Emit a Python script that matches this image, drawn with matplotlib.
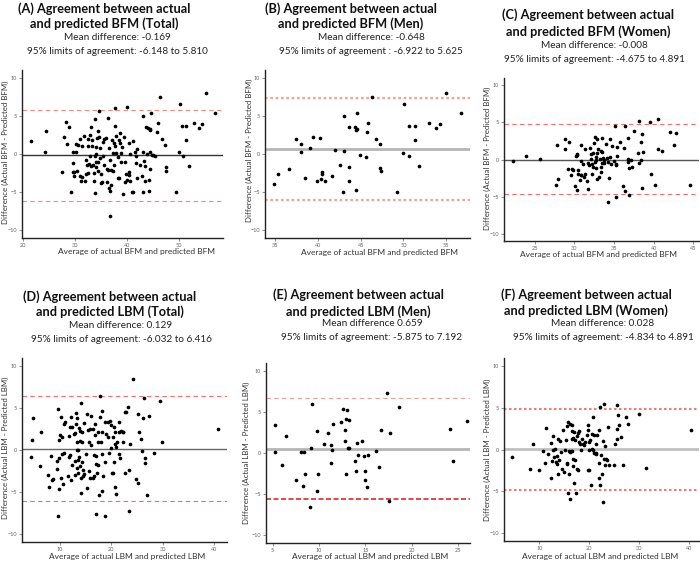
import matplotlib
matplotlib.use("Agg")
import matplotlib.pyplot as plt

plt.rcParams['font.family'] = ['Lato', 'DejaVu Sans']

W, H = 700, 563

# ---------------- data ----------------
a_x = [21.7,24.3,24.5,27.5,28.0,28.3,28.5,28.9,29.3,29.6,29.6,29.7,29.9,29.9,30.2,30.3,30.4,30.7,31.0,31.1,
       31.2,31.4,31.3,31.8,32.0,32.2,32.2,32.5,32.5,32.6,32.4,32.7,32.9,33.0,33.1,33.2,33.3,33.4,33.5,33.6,
       33.6,33.8,33.8,33.9,34.0,34.0,34.1,34.1,34.2,34.4,34.5,34.5,34.6,34.7,34.8,34.9,35.1,35.0,35.3,35.4,
       35.5,35.7,35.7,36.0,36.1,36.1,36.3,36.4,36.6,36.6,36.7,36.8,36.8,36.9,37.0,37.2,37.3,37.4,37.6,37.6,
       37.8,37.8,37.8,37.9,38.0,38.2,38.3,38.5,38.5,38.6,38.7,38.9,38.9,39.0,39.2,39.4,39.6,39.7,39.8,40.1,
       40.1,40.3,40.4,40.4,40.5,40.6,41.0,41.1,41.2,41.5,41.7,41.8,41.9,42.0,42.5,42.8,43.0,43.1,43.1,43.2,
       43.4,43.5,43.6,43.8,44.0,44.2,44.3,44.4,44.5,44.5,44.5,44.7,44.8,45.0,45.4,45.8,45.9,46.4,46.8,47.3,
       47.4,47.5,49.4,50.0,50.2,50.6,50.8,51.3,51.4,51.8,52.9,53.8,54.4,55.2,56.8]
a_y = [1.7,0.3,3.0,-2.4,2.2,4.2,1.3,3.5,-5.0,0.2,-1.2,-2.3,-2.9,-2.4,1.3,0.2,-2.2,1.2,1.9,-2.9,
       -3.5,-3.0,1.1,2.4,-3.6,-2.6,-0.8,1.9,-2.5,1.0,-1.4,-1.3,2.5,-0.2,-1.6,3.6,1.1,1.8,-1.5,-2.5,
       -3.6,-0.2,4.6,-5.1,-0.05,-1.65,-1.1,0.9,2.1,3.0,-1.0,-2.2,2.2,5.65,0.74,-0.56,-2.6,-3.8,-3.7,-0.3,
       1.6,-1.4,2.0,2.1,-1.9,-3.65,4.7,-2.1,0.8,-4.5,-4.8,-0.8,-8.1,-4.0,-2.1,1.8,0.1,-2.2,-1.5,1.4,
       6.0,3.7,1.1,2.4,0.1,-0.4,-3.1,-3.2,1.8,2.7,1.4,0.1,-1.0,0.9,-5.3,2.2,-1.1,-3.7,-2.6,6.2,
       -3.4,1.4,-2.4,-2.8,0.0,-3.6,-5.0,-5.0,1.65,0.2,-0.3,-1.2,-3.2,0.6,-1.4,-2.9,-5.0,5.0,0.3,-0.9,
       -1.6,-3.6,3.5,0.0,3.4,-3.4,-4.8,0.3,3.3,3.1,-1.9,5.4,-0.1,-0.1,-0.3,2.9,4.1,7.4,2.0,1.2,
       -1.7,-2.2,-5.0,0.2,6.6,3.7,-0.2,3.7,1.8,-1.6,4.1,3.4,3.9,8.0,5.4]

b_x = [34.9,35.3,36.6,37.4,38.0,38.0,38.5,39.1,39.4,39.9,40.2,40.3,40.5,40.5,40.8,41.7,42.0,42.6,42.9,43.1,
       43.1,43.6,43.6,43.6,44.3,44.5,44.5,44.6,44.6,44.9,45.6,45.7,45.8,46.3,46.8,47.3,47.3,47.4,49.3,49.9,
       50.1,50.6,50.7,51.4,51.4,51.8,53.0,53.8,54.3,55.0,56.7]
b_y = [-3.9,-2.6,-2.0,1.9,1.3,0.2,-3.2,0.8,2.2,-3.6,2.1,-3.3,-2.4,-2.65,-3.5,-2.9,0.57,-1.4,-5.0,4.96,
       0.4,-1.65,-3.5,3.5,3.6,-4.7,3.2,5.4,3.3,-0.1,-0.35,2.9,4.0,7.5,2.0,1.3,-1.8,-2.2,-5.0,0.13,
       6.6,3.65,-0.2,3.7,1.8,-1.6,4.0,3.35,3.9,8.0,5.4]

c_x = [22.3,23.9,25.7,27.7,27.9,27.8,28.8,28.8,29.3,29.2,29.6,29.7,29.8,30.1,30.2,30.4,30.4,30.4,30.5,30.5,
       30.7,30.8,30.8,30.8,30.9,31.1,31.2,31.3,31.4,31.6,31.7,31.7,31.9,32.0,32.1,32.1,32.2,32.2,32.3,32.4,
       32.5,32.6,32.6,32.7,32.7,32.7,32.8,32.8,32.9,33.0,33.1,33.2,33.3,33.4,33.4,33.5,33.5,33.5,33.6,33.7,
       33.8,34.0,34.1,34.2,34.3,34.4,34.5,34.5,34.6,34.8,35.0,35.1,35.2,35.3,35.3,35.4,35.4,35.7,36.1,36.3,
       36.4,36.4,36.7,36.8,36.8,36.9,36.9,37.1,37.3,37.5,38.0,38.1,38.2,38.4,38.4,38.5,38.5,38.6,39.5,39.6,
       40.1,40.5,40.6,41.0,42.0,42.6,42.8,44.6]
c_y = [-0.2,0.5,0.1,-3.4,-2.65,1.9,2.8,1.4,2.3,-1.3,-2.1,-1.3,-1.35,-3.6,0.45,0.6,0.8,-4.05,-2.0,-1.4,
       -2.8,-2.1,2.0,-2.1,-0.2,-0.6,-2.4,1.4,-1.9,-2.9,-4.0,-0.5,-0.7,1.6,0.7,0.1,-1.9,-0.6,-1.0,0.9,
       2.2,3.0,-0.3,0.4,-1.2,-0.1,2.8,0.9,-2.6,1.35,-2.4,0.1,-1.0,1.2,-1.75,1.0,-0.45,2.9,0.2,-0.1,
       -0.5,2.1,0.2,-5.8,-0.3,-2.5,0.3,2.8,-0.6,1.8,-0.2,4.5,-0.6,-5.0,-0.8,1.7,0.5,2.3,-3.6,1.5,
       -4.3,4.5,0.1,2.9,-0.4,-4.8,-1.1,-0.1,-1.0,3.9,0.9,-0.45,5.2,2.3,-0.1,-3.9,3.4,1.0,5.0,-2.0,
       -3.5,1.4,5.4,1.2,3.7,2.0,3.6,-3.5]

d_x = [4.4,4.7,4.8,6.2,6.3,7.7,8.0,8.3,8.5,8.7,9.4,9.5,9.7,9.7,9.9,9.9,9.9,10.1,10.3,10.3,
       10.5,10.5,10.6,10.8,10.9,11.1,11.7,11.8,11.9,12.0,12.1,12.2,12.3,12.4,12.5,12.7,12.9,12.9,13.0,13.1,
       13.2,13.3,13.4,13.4,13.4,13.6,13.6,13.6,13.7,13.8,13.9,13.9,14.0,14.1,14.1,14.2,14.3,14.4,14.4,14.5,
       14.6,14.7,14.8,15.1,15.3,15.4,15.6,15.8,15.8,15.9,15.9,16.1,16.1,16.4,16.5,16.6,16.7,16.8,16.9,17.0,
       17.1,17.1,17.3,17.4,17.5,17.5,17.6,17.8,17.9,18.0,18.2,18.2,18.2,18.3,18.4,18.8,18.9,18.9,19.1,19.3,
       19.3,19.5,19.7,19.9,20.0,20.2,20.3,20.4,20.5,20.6,20.7,20.7,20.8,20.9,20.9,21.1,21.5,21.5,21.6,21.8,
       22.0,22.3,22.4,22.4,22.6,22.6,22.9,23.2,23.4,23.4,23.7,24.2,24.8,25.2,25.3,25.4,25.9,26.0,26.2,26.4,
       26.5,26.6,26.9,27.4,28.3,29.5,29.8,40.8]
d_y = [-0.8,1.2,3.8,-1.9,2.1,-3.0,-4.4,-0.7,-3.6,-3.5,-2.3,-1.35,4.9,-7.9,-4.7,1.2,-1.0,1.8,3.9,-3.3,
       -0.5,1.55,-4.1,-0.35,3.1,3.3,-3.1,1.7,-0.8,-0.6,2.8,3.9,-3.6,2.7,-1.75,1.9,-1.3,-3.0,2.0,3.1,
       4.4,3.8,-2.1,0.0,1.0,0.05,-2.7,-1.15,-0.8,2.6,-1.9,2.3,1.1,5.6,-3.3,-5.2,2.2,-1.4,0.95,-3.1,
       -2.4,3.2,-2.9,-0.5,4.3,-4.5,2.4,1.0,-2.5,-3.4,2.5,0.6,4.1,-3.4,2.55,-3.1,-0.55,3.1,1.8,-0.7,
       -7.65,-1.7,-2.8,-1.75,0.9,2.1,-5.4,6.45,3.9,1.0,4.7,-4.9,2.1,-0.5,-3.1,3.4,-7.9,-1.4,1.9,3.4,
       1.5,-0.3,3.5,3.0,0.2,-2.7,-2.8,1.6,2.7,-1.4,0.7,-4.4,2.1,-5.3,0.4,1.0,3.3,-0.5,2.2,-0.9,
       2.3,2.2,2.1,1.0,-2.7,4.5,4.6,5.1,-2.4,-7.25,0.7,8.45,-3.5,-3.9,4.3,2.2,1.35,-0.15,3.8,6.2,
       -0.9,-1.6,-5.4,4.1,-0.3,5.8,0.95,2.5]

e_x = [5.2,5.25,6.05,6.4,7.5,8.0,8.3,8.4,8.5,9.0,9.1,9.25,9.76,9.76,9.84,10.56,10.93,11.3,11.3,11.5,
       11.4,12.4,12.6,12.75,12.85,12.9,12.9,13.0,13.1,13.2,13.2,13.9,14.0,14.1,14.2,14.6,14.8,14.95,15.0,15.2,
       15.3,16.2,16.5,16.7,17.3,17.6,17.7,18.6,24.1,24.45,25.95]
e_y = [3.4,0.1,-1.45,2.1,-3.3,0.1,-4.05,0.1,-2.6,-6.6,0.6,6.0,2.7,-4.6,-2.55,1.1,2.45,-1.2,1.0,3.6,
       0.37,3.8,5.4,2.8,1.45,-2.55,4.2,5.25,0.6,4.05,0.6,-1.0,-2.2,1.2,-0.25,1.5,-0.4,-3.3,-2.2,-4.1,
       -0.3,0.25,-1.7,2.8,7.3,-5.9,2.5,5.6,2.9,-1.0,3.9]

f_x = [4.6,8.1,8.7,9.9,10.8,11.1,11.3,11.7,12.3,12.4,12.5,12.7,12.8,13.0,13.1,13.3,13.5,13.6,13.75,13.8,
       13.9,14.1,14.35,14.55,14.8,15.0,15.2,15.3,15.5,15.6,15.6,15.8,15.8,15.9,15.96,16.1,16.2,16.2,16.4,16.5,
       16.6,16.6,16.6,16.7,16.8,16.8,16.9,17.0,17.2,17.2,17.4,17.5,17.6,17.7,17.8,17.9,18.0,18.2,18.4,18.6,
       18.7,18.97,19.2,19.5,19.7,19.8,19.8,19.9,20.0,20.0,20.2,20.3,20.5,20.5,20.7,20.7,20.9,21.0,21.25,21.3,
       21.4,21.5,21.9,21.9,22.0,22.1,22.2,22.4,22.5,22.7,22.8,22.9,22.9,23.1,23.1,23.3,23.5,23.7,23.9,24.9,
       25.1,25.5,25.6,25.6,25.8,25.9,26.3,26.7,27.3,27.75,29.9,31.3,40.3]
f_y = [-0.85,-2.3,0.7,-2.5,-0.2,-1.6,2.6,-0.5,-3.4,0.75,-1.4,-0.1,1.6,-0.85,0.05,-1.55,-0.75,-1.8,-3.0,1.3,
       -1.3,1.0,-0.35,-2.3,2.35,-2.75,0.0,1.15,-1.7,-1.65,2.8,-5.25,3.35,-0.15,-2.9,-0.3,3.1,-6.0,-0.2,2.2,
       2.95,1.3,-0.15,-1.1,-1.95,1.4,-4.05,2.15,1.2,-1.3,-5.25,1.6,-2.4,1.95,-2.5,0.95,2.2,0.7,-0.05,1.25,
       0.7,0.55,0.85,1.8,3.0,-2.5,2.35,0.9,-2.5,0.0,1.15,-4.25,0.05,1.85,3.9,-0.1,1.8,-0.4,0.7,-0.4,
       -0.55,1.8,2.35,-3.45,-1.6,5.1,-4.25,-0.7,-3.0,1.0,-6.3,5.5,-1.2,-1.9,0.4,-1.15,-1.3,2.65,-1.9,-1.9,
       0.7,1.3,2.5,5.4,4.1,2.95,1.5,-1.85,3.9,3.1,4.3,-2.25,2.4]

titles = ["(A) Agreement between actual\nand predicted BFM (Total)",
          "(B) Agreement between actual\nand predicted BFM (Men)",
          "(C) Agreement between actual\nand predicted BFM (Women)",
          "(D) Agreement between actual\nand predicted LBM (Total)",
          "(E) Agreement between actual\nand predicted LBM (Men)",
          "(F) Agreement between actual\nand predicted LBM (Women)"]
mean_texts = ["Mean difference: -0.169", "Mean difference: -0.648", "Mean difference: -0.008",
              "Mean difference: 0.129", "Mean difference 0.659", "Mean difference: 0.028"]
loa_texts = ["95% limits of agreement: -6.148 to 5.810", "95% limits of agreement : -6.922 to 5.625",
             "95% limits of agreement: -4.675 to 4.891", "95% limits of agreement: -6.032 to 6.416",
             "95% limits of agreement: -5.875 to 7.192", "95% limits of agreement: -4.834 to 4.891"]
xlabels = ["Average of actual BFM and predicted BFM"] * 3 + ["Average of actual LBM and predicted LBM"] * 3
ylabels = ["Difference (Actual BFM - Predicted BFM)"] * 3 + ["Difference (Actual LBM - Predicted LBM)"] * 3

mean_lines = [-0.169, 0.648, -0.008, 0.129, 0.55, 0.028]
upper_lines = [5.81, 7.3, 4.75, 6.4, 6.75, 4.891]
lower_lines = [-6.148, -6.05, -4.7, -6.06, -5.65, -4.834]

xticks_list = [[20, 30, 40, 50], [35, 40, 45, 50, 55], [25, 30, 35, 40, 45],
               [10, 20, 30, 40], [5, 10, 15, 20, 25], [10, 20, 30, 40]]
xlims = [(19.9, 58.4), (33.8, 57.8), (21.15, 45.7), (2.7, 42.5), (4.27, 26.3), (2.9, 42.0)]
yticks = [-10, -5, 0, 5, 10]

xs = [a_x, b_x, c_x, d_x, e_x, f_x]
ys = [a_y, b_y, c_y, d_y, e_y, f_y]

# ---------------- layout (pixels) ----------------
ax_boxes = [(22, 223, 70, 238), (265, 470, 70, 238), (504, 699, 78, 241),
            (22, 227, 358, 542), (266, 470, 363, 543), (504, 699, 358, 541)]
title_pos = [(104, 9, 24, 117, 37, 51), (351, 9, 24, 371, 37, 51), (588, 15, 32, 594, 46, 59),
             (110, 297, 312, 121, 326, 339), (358, 295, 312, 372, 324, 337), (586, 295, 311, 603, 324, 337)]
xlab_pos = [(136, 252), (380, 253), (598, 254), (127, 557), (370, 557), (600, 557)]
ylab_pos = [(5, 152), (249, 150), (487, 158), (5, 448), (246, 453), (487, 450)]

mean_style = [dict(color='#333333', lw=1.0), dict(color='#b5b5b5', lw=2.0), dict(color='#555555', lw=1.0),
              dict(color='#666666', lw=1.0), dict(color='#b5b5b5', lw=2.0), dict(color='#c0c0c0', lw=2.0)]
up_style = [dict(color='#f08a8a', lw=0.8, ls=(0, (4, 3))), dict(color='#f5a0a0', lw=1.6, ls=(0, (1.2, 1.2))),
            dict(color='#f07070', lw=0.8, ls=(0, (4, 3))), dict(color='#f07070', lw=0.8, ls=(0, (4, 3))),
            dict(color='#e8a0a0', lw=0.8, ls=(0, (4, 3))), dict(color='#f07a7a', lw=1.5, ls=(0, (1.2, 1.2)))]
lo_style = [dict(color='#f08a8a', lw=0.8, ls=(0, (4, 3))), dict(color='#f5a0a0', lw=1.6, ls=(0, (1.2, 1.2))),
            dict(color='#f07070', lw=0.8, ls=(0, (4, 3))), dict(color='#f07070', lw=0.8, ls=(0, (4, 3))),
            dict(color='#e02828', lw=1.2, ls=(0, (3, 1.5))), dict(color='#f07a7a', lw=1.5, ls=(0, (1.2, 1.2)))]

fig = plt.figure(figsize=(W / 100, H / 100), dpi=100)
fig.patch.set_facecolor('white')

for i in range(6):
    l, r, t, b = ax_boxes[i]
    ax = fig.add_axes([l / W, 1 - b / H, (r - l) / W, (b - t) / H])
    ax.scatter(xs[i], ys[i], s=7, color='black', marker='o', linewidths=0, zorder=3)
    ax.axhline(mean_lines[i], zorder=2, **mean_style[i])
    ax.axhline(upper_lines[i], zorder=2, **up_style[i])
    ax.axhline(lower_lines[i], zorder=2, **lo_style[i])
    ax.set_xlim(*xlims[i])
    ax.set_ylim(-11, 11)
    ax.set_xticks(xticks_list[i])
    ax.set_yticks(yticks)
    for s in ['top', 'right']:
        ax.spines[s].set_visible(False)
    for s in ['left', 'bottom']:
        ax.spines[s].set_color('#222222')
        ax.spines[s].set_linewidth(1.0)
    ax.tick_params(labelsize=4, colors='#666666', length=2, width=0.5, pad=1.5)
    ax.set_facecolor('white')

    tx, ty1, ty2, sx, sy1, sy2 = title_pos[i]
    t1, t2 = titles[i].split('\n')
    fig.text(tx / W, 1 - ty1 / H, t1, ha='center', va='center', fontsize=9.2, fontweight='bold', color='#111111')
    fig.text(tx / W, 1 - ty2 / H, t2, ha='center', va='center', fontsize=9.2, fontweight='bold', color='#111111')
    fig.text(sx / W, 1 - sy1 / H, mean_texts[i], ha='center', va='center', fontsize=7.2, color='#222222')
    fig.text(sx / W, 1 - sy2 / H, loa_texts[i], ha='center', va='center', fontsize=7.2, color='#222222')
    xx, xy = xlab_pos[i]
    fig.text(xx / W, 1 - xy / H, xlabels[i], ha='center', va='center', fontsize=6, color='#333333')
    yx, yy = ylab_pos[i]
    fig.text(yx / W, 1 - yy / H, ylabels[i], ha='center', va='center', fontsize=5.7, color='#333333', rotation=90)

fig.savefig('out.png', dpi=100, facecolor='white')
